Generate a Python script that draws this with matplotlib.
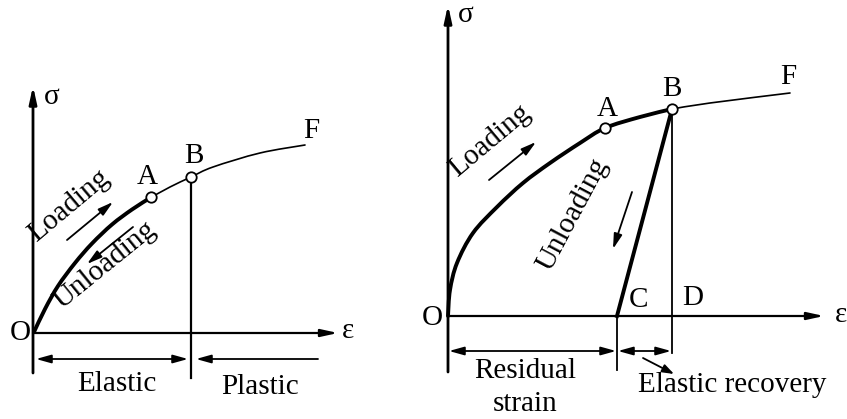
import matplotlib
matplotlib.use("Agg")
import matplotlib.pyplot as plt
from matplotlib.path import Path
from matplotlib.patches import PathPatch

plt.rcParams['font.family'] = ['Liberation Serif', 'DejaVu Serif']

# ---- Left panel geometry (figure pixel units) ----
L_yaxis = [(33, 373), (33, 86)]
L_xaxis = [(33, 333), (338, 333)]
L_thick_x = [34, 45, 58, 75, 92, 112, 132, 150]
L_thick_y = [332, 309, 286, 263, 243.5, 224.5, 209.5, 198]
L_thin_x = [150, 170, 191, 213, 260, 305]
L_thin_y = [198, 187, 177, 167, 153, 145]
L_A = (151, 197)
L_B = (191, 177)
L_vline = [(191, 177), (191, 378)]

# ---- Right panel geometry ----
R_yaxis = [(448, 372), (448, 5)]
R_xaxis = [(448, 316), (824, 316)]
R_thick_x = [448, 450, 457, 473, 497, 523, 550, 580, 605, 640, 672]
R_thick_y = [316, 290, 263, 233, 207, 183, 163, 143, 128, 117, 109]
R_thin_x = [672, 710, 790]
R_thin_y = [109, 103, 93]
R_A = (605, 128)
R_B = (672, 109)
R_C = (617, 316)
R_Dline = [(672, 109), (672, 353)]
R_Ctick = [(617, 316), (617, 370)]

fig = plt.figure(figsize=(8.47, 4.19), dpi=100)
ax = fig.add_axes([0, 0, 1, 1])
ax.set_xlim(0, 847)
ax.set_ylim(419, 0)
ax.axis('off')

FS = 21
axis_lw = 2.0
thick_lw = 2.8
thin_lw = 1.2


def smooth(xs, ys, lw):
    """Draw a smooth curve through the points as cubic Bezier segments."""
    pts = list(zip(xs, ys))
    verts = [pts[0]]
    codes = [Path.MOVETO]
    n = len(pts)
    for i in range(n - 1):
        p0 = pts[i - 1] if i > 0 else pts[i]
        p1 = pts[i]
        p2 = pts[i + 1]
        p3 = pts[i + 2] if i + 2 < n else pts[i + 1]
        c1 = (p1[0] + (p2[0] - p0[0]) / 6, p1[1] + (p2[1] - p0[1]) / 6)
        c2 = (p2[0] - (p3[0] - p1[0]) / 6, p2[1] - (p3[1] - p1[1]) / 6)
        verts += [c1, c2, p2]
        codes += [Path.CURVE4] * 3
    ax.add_patch(PathPatch(Path(verts, codes), fill=False, lw=lw,
                           edgecolor='black', capstyle='round'))


def arrow(p0, p1, lw=1.3, style='-|>', hl=0.9, hw=0.25):
    ax.annotate('', xy=p1, xytext=p0,
                arrowprops=dict(arrowstyle=f'{style},head_length={hl},head_width={hw}',
                                color='black', lw=lw, shrinkA=0, shrinkB=0))


# ---------------- Left panel ----------------
arrow(L_yaxis[0], L_yaxis[1], lw=axis_lw, hl=1.0, hw=0.22)
arrow(L_xaxis[0], L_xaxis[1], lw=1.6, hl=1.0, hw=0.22)
smooth(L_thick_x, L_thick_y, thick_lw)
smooth(L_thin_x, L_thin_y, thin_lw)
ax.plot([p[0] for p in L_vline], [p[1] for p in L_vline], color='black', lw=1.6)
ax.plot([L_A[0], L_B[0]], [L_A[1], L_B[1]], 'o', ms=7.5, mfc='white', mec='black', mew=1.3)

ax.text(20, 333, 'O', fontsize=FS, ha='center', va='center')
ax.text(52, 97, 'σ', fontsize=FS, ha='center', va='center')
ax.text(348, 331, 'ε', fontsize=FS, ha='center', va='center')
ax.text(147, 177, 'A', fontsize=FS, ha='center', va='center')
ax.text(194, 156, 'B', fontsize=FS, ha='center', va='center')
ax.text(311, 131, 'F', fontsize=FS, ha='center', va='center')
ax.text(69, 206, 'Loading', fontsize=FS, ha='center', va='center', rotation=40)
ax.text(105, 265, 'Unloading', fontsize=FS, ha='center', va='center', rotation=39)
arrow((67, 240), (113, 202), lw=1.3)
arrow((133, 227), (87, 264), lw=1.3)

arrow((36, 359), (188, 359), lw=1.3, style='<|-|>')
arrow((318, 359), (196, 359), lw=1.3)
ax.text(117, 384, 'Elastic', fontsize=FS, ha='center', va='center')
ax.text(260, 387, 'Plastic', fontsize=FS, ha='center', va='center')

# ---------------- Right panel ----------------
arrow(R_yaxis[0], R_yaxis[1], lw=axis_lw, hl=1.0, hw=0.22)
arrow(R_xaxis[0], R_xaxis[1], lw=1.6, hl=1.0, hw=0.22)
smooth(R_thick_x, R_thick_y, thick_lw)
smooth(R_thin_x, R_thin_y, thin_lw)
ax.plot([R_B[0], R_C[0]], [R_B[1], R_C[1]], color='black', lw=thick_lw)
ax.plot([p[0] for p in R_Dline], [p[1] for p in R_Dline], color='black', lw=1.3)
ax.plot([p[0] for p in R_Ctick], [p[1] for p in R_Ctick], color='black', lw=1.3)
ax.plot([R_A[0], R_B[0]], [R_A[1], R_B[1]], 'o', ms=7.5, mfc='white', mec='black', mew=1.3)

ax.text(432, 318, 'O', fontsize=FS, ha='center', va='center')
ax.text(466, 15, 'σ', fontsize=FS, ha='center', va='center')
ax.text(841, 315, 'ε', fontsize=FS, ha='center', va='center')
ax.text(607, 109, 'A', fontsize=FS, ha='center', va='center')
ax.text(672, 89, 'B', fontsize=FS, ha='center', va='center')
ax.text(788, 77, 'F', fontsize=FS, ha='center', va='center')
ax.text(638, 300, 'C', fontsize=FS, ha='center', va='center')
ax.text(693, 298, 'D', fontsize=FS, ha='center', va='center')
ax.text(490, 141, 'Loading', fontsize=FS, ha='center', va='center', rotation=40)
ax.text(573, 215, 'Unloading', fontsize=FS, ha='center', va='center', rotation=62)
arrow((489, 180), (536, 142), lw=1.3)
arrow((632, 192), (613, 249), lw=1.3)

arrow((449, 351), (616, 351), lw=1.3, style='<|-|>')
arrow((618, 351), (671, 351), lw=1.3, style='<|-|>')
arrow((643, 358), (674, 374), lw=1.3, hl=0.7)
ax.text(525, 371, 'Residual', fontsize=FS, ha='center', va='center')
ax.text(525, 404, 'strain', fontsize=FS, ha='center', va='center')
ax.text(732, 385, 'Elastic recovery', fontsize=FS, ha='center', va='center')

fig.savefig('out.png', dpi=100)
